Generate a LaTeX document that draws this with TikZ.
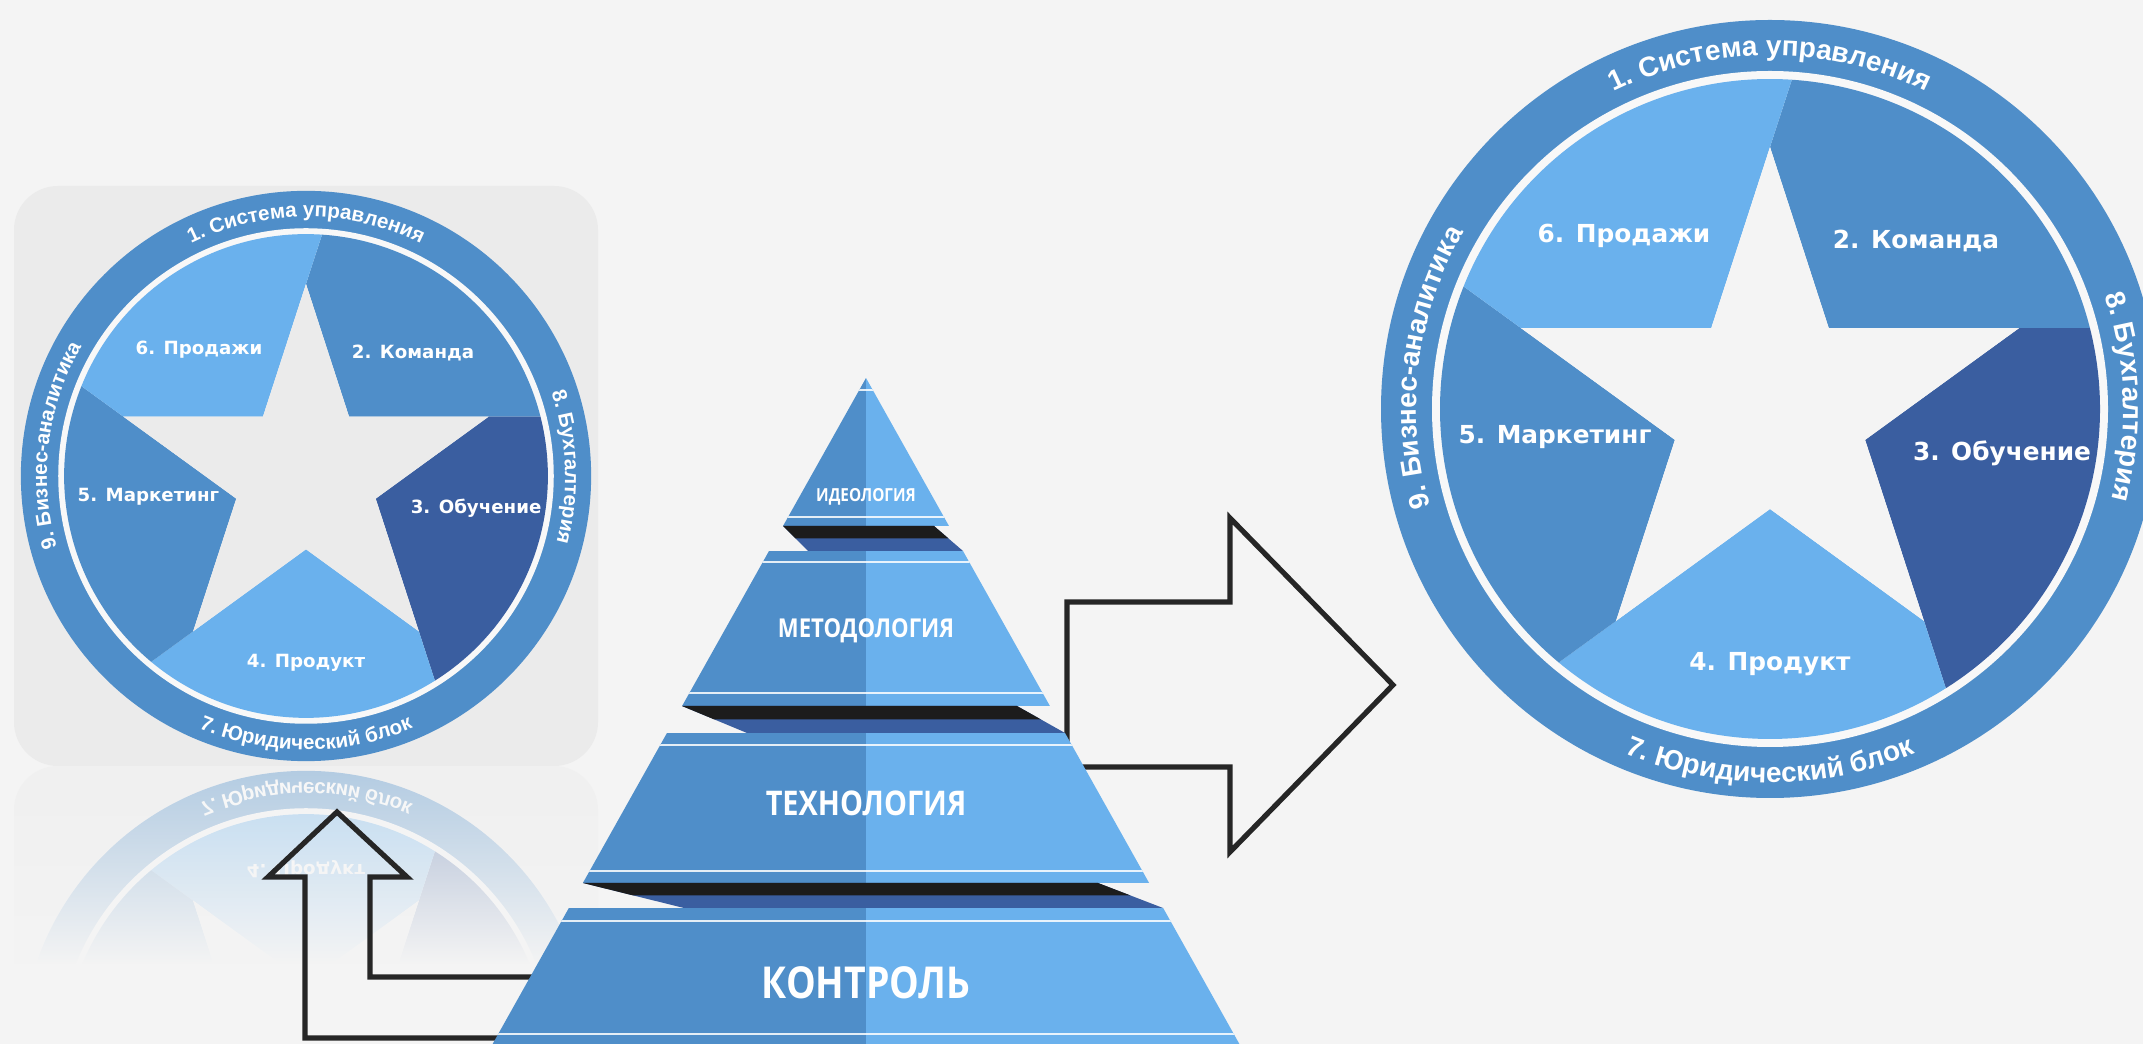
\documentclass[tikz,border=0pt]{standalone}
\usepackage{fontspec}
\usetikzlibrary{decorations.text,fadings}
\newfontfamily\ringfont{Liberation Sans}
\newfontfamily\labelfont{DejaVu Sans}
\newfontfamily\pyrfont[FakeStretch=0.85]{Open Sans}
\newcommand\ringbig{\ringfont\bfseries\fontsize{14pt}{16pt}\selectfont}
\newcommand\ringsmall{\ringfont\bfseries\fontsize{10.3pt}{12pt}\selectfont}
\newcommand\labelbig{\labelfont\bfseries\fontsize{12.4pt}{14pt}\selectfont}
\newcommand\labelsmall{\labelfont\bfseries\fontsize{9.1pt}{11pt}\selectfont}
\definecolor{bggrey}{HTML}{F4F4F4}
\definecolor{cardgrey}{HTML}{EBEBEB}
\definecolor{gapwhite}{HTML}{F8F8F8}
\definecolor{ringblue}{HTML}{4F8EC9}
\definecolor{midblue}{HTML}{4F8EC9}
\definecolor{lightblue}{HTML}{6AB1ED}
\definecolor{darkblue}{HTML}{3A5EA0}
\definecolor{lipblack}{HTML}{1C1C1C}
\definecolor{arrowgrey}{HTML}{262626}
\tikzfading[name=reflfade, top color=transparent!100, bottom color=transparent!0]
\tikzset{
  starlabel/.style={text=white, inner sep=0pt},
  pyrlabel/.style={text=white, inner sep=0pt},
  ringtext/.style 2 args={decorate, decoration={text along path, text align=center, text color=white, text={|#1|#2}}},
  stripe/.style={draw=white, line width=1.3pt, opacity=0.85},
  blockarrow/.style={draw=arrowgrey, line width=2.6pt, line join=miter}
}
\newcommand\stardiagram[6]{%
  \begin{scope}[shift={#1}, scale=#2]
    \fill[ringblue] (0,0) circle[radius=389];
    \fill[gapwhite] (0,0) circle[radius=338];
    \foreach \a/\col in {90/midblue, 18/darkblue, -54/lightblue, -126/midblue, 162/lightblue}
      \fill[\col] (\a-3.8:330) -- (\a:262) -- (\a-36:100) -- (\a-72:262) -- (\a-75.8:330)
        arc[start angle=\a-75.8, end angle=\a-3.8, radius=330] -- cycle;
    \fill[#6] (90:262) -- (54:100) -- (18:262) -- (-18:100) -- (-54:262) -- (-90:100)
      -- (-126:262) -- (-162:100) -- (162:262) -- (126:100) -- cycle;
    \node[starlabel, font=#4] (#5-sales) at (-146,173) {6. Продажи};
    \node[starlabel, font=#4] (#5-team) at (146,168) {2. Команда};
    \node[starlabel, font=#4] (#5-marketing) at (-215,-28) {5. Маркетинг};
    \node[starlabel, font=#4] (#5-training) at (232,-44) {3. Обучение};
    \node[starlabel, font=#4] (#5-product) at (0,-255) {4. Продукт};
    \path[ringtext={#3}{1. Система управления}] (150:353.5) arc[start angle=150, end angle=30, radius=353.5];
    \path[ringtext={#3}{8. Бухгалтерия}] (62:353.5) arc[start angle=62, end angle=-58, radius=353.5];
    \path[ringtext={#3}{9. Бизнес-аналитика}] (233:353.5) arc[start angle=233, end angle=113, radius=353.5];
    \path[ringtext={#3}{7. Юридический блок}] (210:373.5) arc[start angle=210, end angle=330, radius=373.5];
  \end{scope}}
\begin{document}
\begin{tikzpicture}[x=0.5pt,y=0.5pt]
  \useasboundingbox (0,0) rectangle (2143,1044);
  \fill[bggrey] (0,0) rectangle (2143,1044);

  \fill[cardgrey, rounded corners=22pt] (14,278) rectangle (598,858);
  \stardiagram{(306,568)}{0.733}{\ringsmall}{\labelsmall}{small}{cardgrey}

  \begin{scope}
    \clip (0,80) rectangle (620,277.5);
    \begin{scope}[transform canvas={shift={(0,556)}, yscale=-1}]
      \fill[cardgrey, rounded corners=22pt] (14,278) rectangle (598,858);
      \stardiagram{(306,568)}{0.733}{\ringsmall}{\labelsmall}{refl}{cardgrey}
    \end{scope}
  \end{scope}
  \fill[bggrey, opacity=0.6] (0,80) rectangle (620,277.5);
  \fill[bggrey, path fading=reflfade] (0,80) rectangle (620,277.5);

  \stardiagram{(1770,635)}{1}{\ringbig}{\labelbig}{big}{bggrey}

  \draw[blockarrow] (1067,277) -- (1067,442) -- (1230,442) -- (1230,526) -- (1393,359)
    -- (1230,192) -- (1230,277) -- cycle;
  \draw[blockarrow] (620,6) -- (305,6) -- (305,167) -- (268,167) -- (337,232) -- (407,167)
    -- (370,167) -- (370,67) -- (620,67) -- cycle;

  \begin{scope}
    \clip (866,666) -- (487,-10) -- (1245,-10) -- cycle;
    \foreach \yt/\yb in {666/518, 493/338, 311/161, 136/-10} {
      \fill[midblue] (480,\yb) rectangle (866,\yt);
      \fill[lightblue] (866,\yb) rectangle (1250,\yt);
    }
    \foreach \y in {654,527,482,351,299,173,123,10}
      \draw[stripe] (480,\y) -- (1250,\y);
    \foreach \yt/\yb/\lt/\rt/\lb/\rb in {518/493/783/934/808/963, 338/311/682/1017/747/1065, 161/136/583/1098/684/1163} {
      \fill[darkblue] (\lt,\yt) -- (\rt,\yt) -- (\rb,\yb) -- (\lb,\yb) -- cycle;
      \fill[lipblack] (\lt,\yt) -- (\rt,\yt) -- ({(\rt+\rb)/2},{(\yt+\yb)/2})
        -- ({(\lt+\lb)/2},{(\yt+\yb)/2}) -- cycle;
    }
  \end{scope}
  \node[pyrlabel, font=\pyrfont\bfseries\fontsize{9pt}{10pt}\selectfont] (ideology) at (866,547) {ИДЕОЛОГИЯ};
  \node[pyrlabel, font=\pyrfont\bfseries\fontsize{13pt}{15pt}\selectfont] (methodology) at (866,413) {МЕТОДОЛОГИЯ};
  \node[pyrlabel, font=\pyrfont\bfseries\fontsize{17pt}{19pt}\selectfont] (technology) at (866,241) {ТЕХНОЛОГИЯ};
  \node[pyrlabel, font=\pyrfont\bfseries\fontsize{22pt}{24pt}\selectfont] (control) at (866,61) {КОНТРОЛЬ};
\end{tikzpicture}
\end{document}
